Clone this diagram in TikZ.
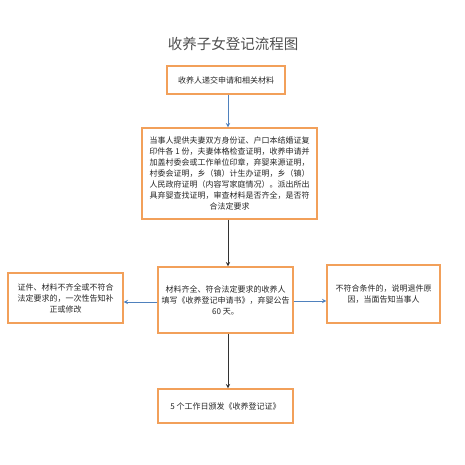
\documentclass[tikz,border=0pt]{standalone}
\usepackage{fontspec}
\setmainfont{Noto Sans CJK SC}
\usetikzlibrary{positioning}
\definecolor{boxline}{RGB}{242,160,90}
\definecolor{flowblue}{RGB}{79,129,189}
\definecolor{titlegray}{RGB}{80,80,80}

\tikzset{
  stepbox/.style={draw=boxline,line width=1.4pt,fill=white,inner sep=2pt,
    font=\fontsize{8}{11}\selectfont,align=center,text=black!85},
  blueline/.style={->,draw=flowblue,line width=0.9pt},
  darkline/.style={->,draw=black!80,line width=0.9pt}
}

\begin{document}
\begin{tikzpicture}[x=1pt,y=-1pt,>=stealth]
\useasboundingbox[fill=white] (0,0) rectangle (465,465);
\node[font=\fontsize{14.5}{16}\selectfont,text=titlegray] (title) at (233,44) {收养子女登记流程图};
\node[stepbox,minimum width=118pt,minimum height=28pt] (apply) at (226,80) {收养人递交申请和相关材料};
\node[stepbox,minimum width=175pt,minimum height=91pt] (check) at (229.5,173.5)
  {当事人提供夫妻双方身份证、户口本结婚证复\\印件各 1 份，夫妻体格检查证明，收养申请并\\加盖村委会或工作单位印章，弃婴来源证明，\\村委会证明，乡（镇）计生办证明，乡（镇）\\人民政府证明（内容写家庭情况）。派出所出\\具弃婴查找证明，审查材料是否齐全，是否符\\合法定要求};
\node[stepbox,minimum width=135pt,minimum height=66pt] (fill) at (225.5,300)
  {材料齐全、符合法定要求的收养人\\填写《收养登记申请书》，弃婴公告\\60 天。};
\node[stepbox,minimum width=115pt,minimum height=50pt] (redo) at (65.5,298)
  {证件、材料不齐全或不符合\\法定要求的，一次性告知补\\正或修改};
\node[stepbox,minimum width=113pt,minimum height=58pt] (reject) at (383.5,294)
  {不符合条件的，说明退件原\\因，当面告知当事人};
\node[stepbox,minimum width=135pt,minimum height=34pt] (issue) at (225.5,406)
  {5 个工作日颁发《收养登记证》};
\coordinate (col) at (228,0);
\draw[blueline] (apply.south -| col) -- (check.north -| col);
\draw[darkline] (check.south -| col) -- (fill.north -| col);
\draw[darkline] (fill.south -| col) -- (issue.north -| col);
\coordinate (lrow) at (0,302);
\coordinate (rrow) at (0,301);
\draw[blueline] (fill.west |- lrow) -- (redo.east |- lrow);
\draw[blueline] (fill.east |- rrow) -- (reject.west |- rrow);
\end{tikzpicture}
\end{document}
